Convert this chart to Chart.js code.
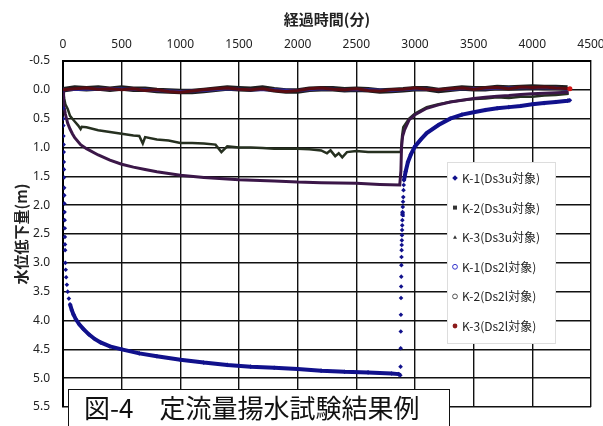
<!DOCTYPE html>
<html>
<head>
<meta charset="utf-8">
<script src="https://cdn.jsdelivr.net/npm/chart.js@4.4.1/dist/chart.umd.min.js"></script>
<style>
body{margin:0;background:#fff}
#wrap{position:relative;width:603px;height:426px}
.caption{position:absolute;left:68px;top:389px;width:382px;height:40px;box-sizing:border-box;border:1.5px solid #111;background:#fff;
  font:26px "Noto Sans CJK JP",sans-serif;line-height:34px;padding-left:15px;color:#111;white-space:nowrap}
</style>
</head>
<body>
<div id="wrap">
  <canvas id="c" width="603" height="426"></canvas>
  <div class="caption">図-4　定流量揚水試験結果例</div>
</div>
<script>
// axis ticks
var xTicks = [0,500,1000,1500,2000,2500,3000,3500,4000,4500]
var yTicks = [-0.5,0,0.5,1,1.5,2,2.5,3,3.5,4,4.5,5,5.5]
var labels = ["K-1(Ds3u対象)","K-2(Ds3u対象)","K-3(Ds3u対象)","K-1(Ds2l対象)","K-2(Ds2l対象)","K-3(Ds2l対象)"]

// K-1 (Ds3u) elapsed minutes / drawdown m
var k1uT = [0,1,2,3,4,5,6,7,8,9,10,11,12,13,14,15,16,17,18,20,23,27,33,40,50,60,75,90,110,140,175,220,270,320,400,500,650,800,1000,1200,1400,1600,1800,2000,2200,2400,2600,2800,2860,2875,
  2877,2878,2879,2880,2881,2882,2883,2884,2885,2886,2887,2888,2889,2890,2891,2892,2893,2894,2896,2898,2900,2902,2904,2906,
  2920,2940,2965,3000,3050,3100,3200,3300,3400,3500,3600,3700,3800,3900,4000,4100,4200,4300,4320]
var k1uV = [0,0.32,0.5,0.62,0.8,0.95,1.08,1.25,1.38,1.52,1.7,1.83,1.97,2.12,2.26,2.4,2.55,2.68,2.78,3.0,3.12,3.25,3.38,3.5,3.62,3.72,3.82,3.9,3.98,4.07,4.15,4.24,4.32,4.38,4.45,4.5,4.57,4.62,4.68,4.73,4.77,4.8,4.82,4.84,4.87,4.89,4.9,4.92,4.93,4.95,
  4.8,4.48,4.19,3.9,3.61,3.41,3.24,3.04,2.9,2.78,2.69,2.61,2.52,2.43,2.35,2.26,2.17,2.12,2.03,1.94,1.86,1.74,1.65,1.57,
  1.42,1.25,1.12,0.98,0.86,0.75,0.61,0.5,0.43,0.39,0.35,0.32,0.3,0.28,0.25,0.23,0.21,0.19,0.18]

// K-2 (Ds3u)
var k2uT = [0,5,10,20,40,60,80,100,150,200,300,400,500,600,700,800,1000,1200,1500,1800,2000,2200,2500,2700,2870,2880,2885,2895,2910,2950,3000,3100,3200,3300,3400,3500,3600,3700,3800,3900,4000,4100,4200,4310]
var k2uV = [0,0.2,0.3,0.42,0.58,0.68,0.76,0.83,0.95,1.02,1.13,1.22,1.29,1.34,1.38,1.42,1.48,1.52,1.56,1.58,1.6,1.61,1.62,1.64,1.65,1.4,1.0,0.8,0.7,0.52,0.43,0.32,0.26,0.21,0.18,0.15,0.13,0.11,0.1,0.08,0.07,0.06,0.05,0.04]

// K-3 (Ds3u)
var k3uT = [0,10,20,40,60,80,100,130,150,160,200,300,400,500,600,650,680,700,800,900,1000,1100,1200,1300,1350,1380,1400,1500,1600,1700,1800,1900,2000,2100,2200,2250,2280,2320,2350,2380,2420,2500,2600,2700,2800,2880,2890,2900,2950,3000,3100,3200,3300,3400,3500,3600,3700,3800,3900,4000,4100,4200,4310]
var k3uV = [0,0.15,0.25,0.33,0.45,0.5,0.55,0.62,0.68,0.64,0.65,0.7,0.73,0.76,0.79,0.8,0.93,0.82,0.86,0.88,0.92,0.92,0.93,0.95,1.08,1.02,0.98,1.0,1.0,1.01,1.02,1.02,1.02,1.03,1.05,1.1,1.05,1.15,1.1,1.17,1.08,1.06,1.08,1.08,1.08,1.08,0.8,0.65,0.5,0.41,0.3,0.25,0.21,0.18,0.16,0.15,0.13,0.14,0.12,0.12,0.1,0.09,0.07]

// Ds2l wells, around zero
var k1lT = [0,200,400,600,800,1000,1200,1400,1600,1800,2000,2200,2400,2600,2800,3000,3200,3400,3600,3800,4000,4200,4300]
var k1lV = [0,-0.01,-0.02,-0.01,0.01,0.03,0.01,-0.02,0,0,0.01,-0.02,0,0,0.01,-0.02,0,-0.02,-0.02,-0.03,-0.04,-0.03,-0.01]
var k2lT = [0,100,200,300,400,500,600,700,800,900,1000,1100,1200,1300,1400,1500,1600,1700,1800,1900,2000,2100,2200,2300,2400,2500,2600,2700,2800,2900,3000,3100,3200,3300,3400,3500,3600,3700,3800,3900,4000,4100,4200,4300]
var k2lV = [0,-0.03,-0.02,-0.03,-0.01,-0.03,-0.01,-0.01,0.01,0.02,0.03,0.03,0.01,-0.01,-0.03,-0.02,-0.01,-0.03,0,0.02,0.02,-0.01,-0.02,-0.02,0,-0.01,0,0.02,0.01,0,-0.02,-0.02,0.01,-0.01,-0.03,-0.02,-0.02,-0.04,-0.03,-0.04,-0.05,-0.04,-0.04,-0.03]
var k3lT = [0,100,200,300,400,500,600,700,800,900,1000,1100,1200,1300,1400,1500,1600,1700,1800,1900,2000,2100,2200,2300,2400,2500,2600,2700,2800,2900,3000,3100,3200,3300,3400,3500,3600,3700,3800,3900,4000,4100,4200,4320]
var k3lV = [0,-0.02,-0.03,-0.01,-0.02,0,-0.02,0.01,0,0.03,0.04,0.02,0,-0.02,-0.03,-0.01,0,-0.02,0.01,0.03,0.01,-0.02,-0.03,-0.01,0,-0.02,0.01,0.02,0,-0.01,-0.03,-0.01,0,-0.02,-0.03,-0.01,-0.03,-0.04,-0.02,-0.05,-0.04,-0.05,-0.03,-0.02]

var pts = (t, v) => t.map((x, i) => ({x: x, y: v[i]}))
var tickFont = {family: "'Liberation Sans Narrow','Noto Sans',sans-serif", size: 12}
var jpFont = "'Noto Sans CJK JP',sans-serif"

// legend drawn inside the plot, like the original
var legendBox = {
  id: "legendBox",
  afterDraw(chart) {
    var ctx = chart.ctx
    ctx.save()
    ctx.fillStyle = "#fff"
    ctx.fillRect(447, 162, 108, 181)
    ctx.strokeStyle = "#ddd"
    ctx.lineWidth = 1
    ctx.strokeRect(447.5, 162.5, 108, 181)
    ctx.font = "12px " + jpFont
    ctx.textBaseline = "middle"
    chart.data.datasets.forEach((ds, i) => {
      var y = 178 + i * 29.6, x = 455
      ctx.fillStyle = ds.legendFill
      ctx.strokeStyle = ds.legendStroke
      ctx.lineWidth = 1
      ctx.beginPath()
      if (ds.legendShape == "diamond") {
        ctx.moveTo(x, y - 2.8); ctx.lineTo(x + 2.8, y); ctx.lineTo(x, y + 2.8); ctx.lineTo(x - 2.8, y); ctx.closePath(); ctx.fill()
      } else if (ds.legendShape == "square") {
        ctx.rect(x - 2, y - 2, 4, 4); ctx.fill()
      } else if (ds.legendShape == "tri") {
        ctx.moveTo(x, y - 2); ctx.lineTo(x + 2, y + 1.6); ctx.lineTo(x - 2, y + 1.6); ctx.closePath(); ctx.fill()
      } else {
        ctx.arc(x, y, 2.4, 0, Math.PI * 2)
        if (ds.legendFill != "none") ctx.fill(); else ctx.stroke()
      }
      ctx.fillStyle = "#222"
      ctx.fillText(ds.label, 462, y + 0.5)
    })
    ctx.restore()
  }
}

var config = {
  type: "scatter",
  data: {
    datasets: [
      {label: labels[0], data: pts(k1uT, k1uV), showLine: true, borderColor: "#11118c", backgroundColor: "#11118c",
        borderWidth: 4, pointStyle: "rectRot", pointRadius: 2.3, pointBorderWidth: 0,
        segment: {borderColor: c => (Math.abs(c.p1.parsed.x - c.p0.parsed.x) < 12 && Math.abs(c.p1.parsed.y - c.p0.parsed.y) > 0.05) ? "rgba(0,0,0,0)" : undefined},
        legendShape: "diamond", legendFill: "#11118c", legendStroke: "#11118c"},
      {label: labels[1], data: pts(k2uT, k2uV), showLine: true, borderColor: "#3b1748", borderWidth: 3, pointRadius: 0,
        legendShape: "square", legendFill: "#333", legendStroke: "#333"},
      {label: labels[2], data: pts(k3uT, k3uV), showLine: true, borderColor: "#263020", borderWidth: 2.5, pointRadius: 0,
        legendShape: "tri", legendFill: "#333", legendStroke: "#333"},
      {label: labels[3], data: pts(k1lT, k1lV), showLine: true, borderColor: "#2a2aa0", borderWidth: 3, pointRadius: 0,
        legendShape: "circle", legendFill: "none", legendStroke: "#3333cc"},
      {label: labels[4], data: pts(k2lT, k2lV), showLine: true, borderColor: "#1e1e1e", borderWidth: 5.5, pointRadius: 0,
        legendShape: "circle", legendFill: "none", legendStroke: "#555"},
      {label: labels[5], data: pts(k3lT, k3lV), showLine: true, borderColor: "#5a0c12", borderWidth: 3, order: -1,
        pointRadius: c => c.dataIndex == k3lT.length - 1 ? 2.5 : 0, pointBackgroundColor: "#d01818", pointBorderWidth: 0,
        legendShape: "circle", legendFill: "#8b1a1a", legendStroke: "#8b1a1a"}
    ]
  },
  options: {
    responsive: false,
    animation: false,
    layout: {padding: {left: 0, right: 12, top: 0, bottom: 19}, autoPadding: false},
    plugins: {legend: {display: false}, tooltip: {enabled: false}},
    scales: {
      x: {
        type: "linear", position: "top", min: 0, max: 4500,
        afterBuildTicks: s => { s.ticks = xTicks.map(v => ({value: v})) },
        afterFit: s => { s.height = 61; s.paddingLeft = 0; s.paddingRight = 0 },
        ticks: {font: tickFont, color: "#222", padding: 9, autoSkip: false, maxRotation: 0, callback: v => String(v)},
        grid: {color: "#111", lineWidth: 1.4, drawTicks: false},
        border: {color: "#000", width: 2},
        title: {display: true, text: "経過時間(分)", color: "#222", font: {family: jpFont, size: 15, weight: "bold"}, padding: {top: 10, bottom: 0}}
      },
      y: {
        type: "linear", reverse: true, min: -0.5, max: 5.5,
        afterBuildTicks: s => { s.ticks = yTicks.map(v => ({value: v})) },
        afterFit: s => { s.width = 63; s.paddingTop = 0; s.paddingBottom = 0 },
        ticks: {font: tickFont, color: "#222", padding: 13, autoSkip: false, callback: v => v.toFixed(1)},
        grid: {color: "#111", lineWidth: 1.4, drawTicks: false},
        border: {color: "#000", width: 2},
        title: {display: true, text: "水位低下量(m)", color: "#222", font: {family: jpFont, size: 15, weight: "bold"}, padding: {top: 12, bottom: 0}}
      }
    }
  },
  plugins: [legendBox]
}

var chart = new Chart(document.getElementById("c"), config)
</script>
</body>
</html>
